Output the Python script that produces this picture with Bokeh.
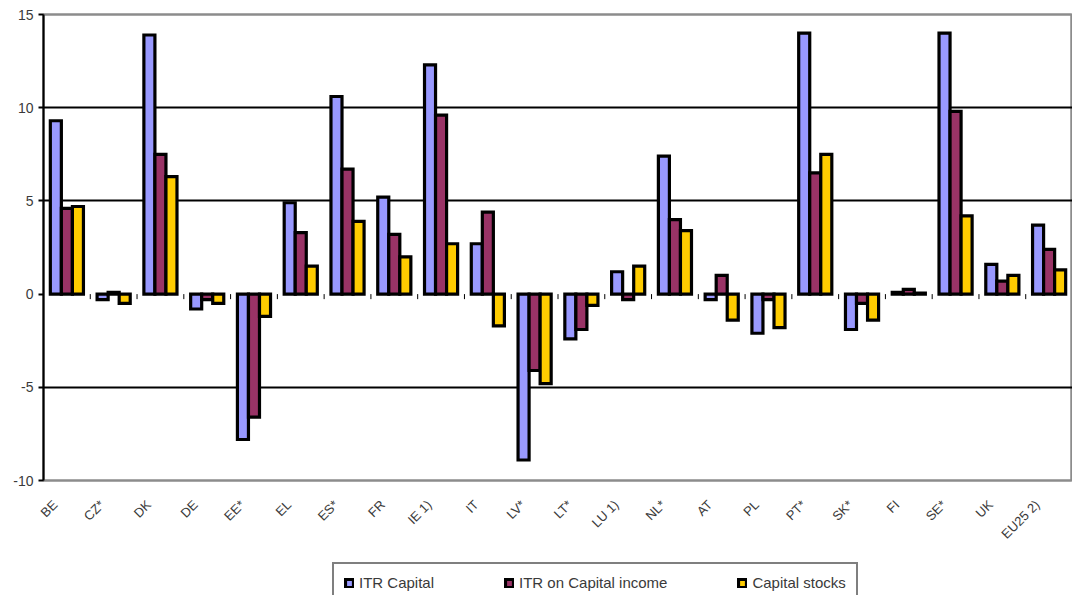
import math
import numpy as np
from bokeh.plotting import figure
from bokeh.layouts import column
from bokeh.models import (ColumnDataSource, Range1d, FixedTicker, LinearAxis,
                          Legend, LegendItem, CustomJSTickFormatter)
from bokeh.transform import dodge
from bokeh.embed import file_html
from bokeh.resources import INLINE

categories = ["BE", "CZ*", "DK", "DE", "EE*", "EL", "ES*", "FR", "IE 1)", "IT", "LV*",
              "LT*", "LU 1)", "NL*", "AT", "PL", "PT*", "SK*", "FI", "SE*", "UK", "EU25 2)"]
itr_capital = [9.3, -0.3, 13.9, -0.8, -7.8, 4.9, 10.6, 5.2, 12.3, 2.7, -8.9,
               -2.4, 1.2, 7.4, -0.3, -2.1, 14.0, -1.9, 0.1, 14.0, 1.6, 3.7]
itr_capital_income = [4.6, 0.1, 7.5, -0.3, -6.6, 3.3, 6.7, 3.2, 9.6, 4.4, -4.1,
                      -1.9, -0.3, 4.0, 1.0, -0.3, 6.5, -0.5, 0.25, 9.8, 0.7, 2.4]
capital_stocks = [4.7, -0.5, 6.3, -0.5, -1.2, 1.5, 3.9, 2.0, 2.7, -1.7, -4.8,
                  -0.6, 1.5, 3.4, -1.4, -1.8, 7.5, -1.4, 0.05, 4.2, 1.0, 1.3]
series_names = ["ITR Capital", "ITR on Capital income", "Capital stocks"]
y_ticks = [-10, -5, 0, 5, 10, 15]
colors = ["#9999FF", "#993366", "#FFCC00"]

n = len(categories)
pos = np.arange(n) + 0.5          # centre of each category slot
src = ColumnDataSource(dict(pos=pos, cat=categories, a=itr_capital,
                            b=itr_capital_income, c=capital_stocks))
bsrc = ColumnDataSource(dict(pos=pos[:-1], y0=[0] * (n - 1), y1=[-0.27] * (n - 1)))

p = figure(width=1072, height=557, x_range=Range1d(0, n),
           y_range=Range1d(-10, 15), output_backend="svg", toolbar_location=None,
           x_axis_location=None,
           min_border_left=43, min_border_right=0, min_border_top=14,
           min_border_bottom=77)
p.background_fill_color = "white"
p.border_fill_color = "white"
p.outline_line_color = "#8c8c8c"
p.outline_line_width = 2.5

w = 0.236
bar_style = dict(line_color="black", line_width=3.2, line_join="miter")
for off, col, fld in zip([-w, 0, w], colors, ["a", "b", "c"]):
    p.vbar(x=dodge("pos", off), top=fld, bottom=0, width=w, source=src,
           fill_color=col, **bar_style)

# small category-boundary ticks on the zero line
p.segment(x0=dodge("pos", 0.5), x1=dodge("pos", 0.5), y0="y0", y1="y1",
          source=bsrc, line_color="black", line_width=1)

# grid
p.xgrid.grid_line_color = None
p.ygrid.ticker = FixedTicker(ticks=[-5, 5, 10])
p.ygrid.grid_line_color = "black"
p.ygrid.grid_line_width = 2

# y axis
p.yaxis.ticker = FixedTicker(ticks=y_ticks)
p.yaxis.major_label_overrides = {t: str(t) for t in y_ticks}
p.yaxis.axis_line_color = "black"
p.yaxis.axis_line_width = 2
p.yaxis.major_tick_line_color = "black"
p.yaxis.major_tick_line_width = 2
p.yaxis.major_tick_out = 5
p.yaxis.major_tick_in = 0
p.yaxis.minor_tick_line_color = None
p.yaxis.major_label_standoff = 5
p.yaxis.major_label_text_font = "Liberation Sans"
p.yaxis.major_label_text_font_size = "14px"
p.yaxis.major_label_text_color = "#3a3a3a"

# x axis (labels slightly left of the category centres, like the original)
xax = LinearAxis(ticker=FixedTicker(ticks=list(pos - 0.25)),
                 formatter=CustomJSTickFormatter(args=dict(labels=categories),
                                                 code="return labels[Math.round(tick - 0.25)] || '';"))
xax.axis_line_color = None
xax.major_tick_line_color = None
xax.minor_tick_line_color = None
xax.major_label_orientation = math.pi / 4
xax.major_label_standoff = 16
xax.major_label_text_font = "Liberation Sans"
xax.major_label_text_font_size = "13px"
xax.major_label_text_color = "#3a3a3a"
p.add_layout(xax, "below")

# legend strip underneath (its bars are the same series, hidden and out of view)
p2 = figure(width=1072, height=38, x_range=Range1d(10 * n, 11 * n),
            y_range=Range1d(100, 101),
            output_backend="svg", toolbar_location=None,
            x_axis_location=None, y_axis_location=None,
            min_border_left=0, min_border_right=0, min_border_top=0, min_border_bottom=0)
p2.outline_line_color = None
p2.background_fill_color = "white"
p2.xgrid.grid_line_color = None
p2.ygrid.grid_line_color = None
items = []
for name, col, fld in zip(series_names, colors, ["a", "b", "c"]):
    r = p2.vbar(x="pos", top=fld, bottom=0, width=w, source=src, fill_color=col, **bar_style)
    r.visible = False
    items.append(LegendItem(label=name, renderers=[r]))

legend = Legend(items=items, orientation="horizontal", location=(289, -8))
legend.border_line_color = "black"
legend.border_line_width = 2.5
legend.background_fill_color = "white"
legend.inactive_fill_alpha = 0
legend.label_text_font = "Liberation Sans"
legend.label_text_font_size = "15px"
legend.label_text_color = "#3a3a3a"
legend.glyph_width = 10
legend.glyph_height = 10
legend.label_standoff = 5
legend.spacing = 70
legend.padding = 10
legend.margin = 0
legend.label_height = 14
p2.add_layout(legend, "center")

open("out.html", "w").write(file_html(column(p, p2, spacing=0), INLINE))
